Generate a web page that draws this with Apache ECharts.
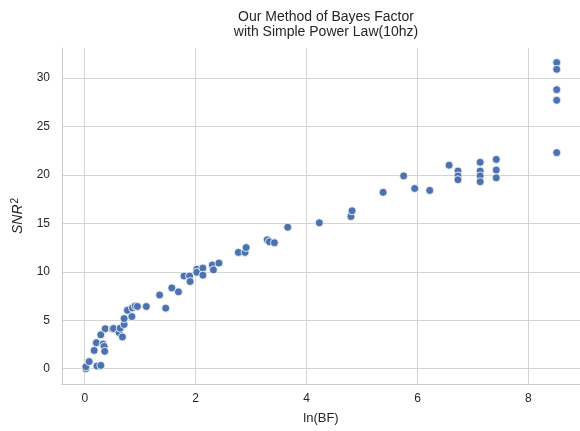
<!DOCTYPE html>
<html lang="en">
<head>
  <meta charset="utf-8">
  <title>Bayes Factor</title>
  <script src="https://cdn.jsdelivr.net/npm/echarts@6/dist/echarts.min.js"></script>
  <style>
    body { margin: 0; background: #fff; }
  </style>
</head>
<body>
<div id="main" style="width: 580px;height:431px;"></div>
<script type="text/javascript">
// ln(BF) 和 SNR^2 数据
var ln_bf = [0.02, 0.02, 0.08, 0.22, 0.29, 0.17, 0.21, 0.33, 0.35, 0.36,
             0.29, 0.37, 0.50, 0.52, 0.62, 0.64, 0.68, 0.71, 0.71, 0.77,
             0.85, 0.86, 0.91, 0.95, 1.11, 1.35, 1.46, 1.57, 1.69, 1.79,
             1.89, 1.90, 2.02, 2.02, 2.13, 2.13, 2.30, 2.32, 2.42, 2.77,
             2.89, 2.91, 3.29, 3.33, 3.42, 3.66, 4.23, 4.80, 4.82, 5.38,
             5.75, 5.95, 6.22, 6.57, 6.73, 6.73, 6.73, 7.13, 7.13, 7.13,
             7.13, 7.42, 7.42, 7.42, 8.51, 8.51, 8.51, 8.51, 8.51];
var snr2 = [0.0, 0.2, 0.73, 0.27, 0.34, 1.88, 2.68, 2.55, 2.3, 1.79,
            3.5, 4.13, 4.1, 4.15, 3.72, 4.18, 3.27, 4.56, 5.17, 6.02,
            5.38, 6.28, 6.47, 6.42, 6.42, 7.6, 6.25, 8.34, 7.93, 9.56,
            9.56, 9.0, 10.27, 9.95, 10.38, 9.65, 10.7, 10.2, 10.9, 12.0,
            12.0, 12.5, 13.3, 13.1, 13.0, 14.6, 15.06, 15.7, 16.3, 18.2,
            19.9, 18.6, 18.4, 21.0, 20.4, 19.9, 19.5, 21.3, 20.4, 19.9,
            19.3, 21.6, 20.5, 19.7, 31.6, 30.9, 28.8, 27.7, 22.3];
var title_lines = ['Our Method of Bayes Factor', 'with Simple Power Law(10hz)'];

var points = [];
for (var i = 0; i < ln_bf.length; i++) {
  points.push([ln_bf[i], snr2[i]]);
}

var font = '"Liberation Sans", Arial, sans-serif';
var myChart = echarts.init(document.getElementById('main'));

var option = {
  backgroundColor: '#fff',
  animation: false,
  textStyle: { fontFamily: font },
  title: {
    text: title_lines.join('\n'),
    left: 321,
    textAlign: 'center',
    top: 5,
    textStyle: { fontFamily: font, fontSize: 14, fontWeight: 'normal', color: '#262626', lineHeight: 15 }
  },
  grid: { left: 62, right: 0, top: 48, bottom: 47 },
  xAxis: {
    type: 'value',
    min: -0.41,
    max: 8.93,
    splitNumber: 5,
    name: 'ln(BF)',
    nameLocation: 'middle',
    nameGap: 28,
    nameTextStyle: { fontFamily: font, fontSize: 13, color: '#262626' },
    axisLine: { show: true, onZero: false, lineStyle: { color: '#cccccc', width: 1 } },
    axisTick: { show: false },
    axisLabel: { showMinLabel: false, showMaxLabel: false, margin: 9, fontSize: 12, color: '#262626', fontFamily: font },
    splitLine: { show: true, showMinLine: false, showMaxLine: false, lineStyle: { color: '#d4d4d4', width: 1 } }
  },
  yAxis: {
    type: 'value',
    min: -1.58,
    max: 33.1,
    splitNumber: 7,
    name: '{i|SNR}{s|2}',
    nameLocation: 'middle',
    nameGap: 36,
    nameTextStyle: {
      rich: {
        i: { fontFamily: font, fontSize: 14, fontStyle: 'italic', color: '#262626' },
        s: { fontFamily: font, fontSize: 10, color: '#262626', verticalAlign: 'top', padding: [0, 0, 6, 1] }
      }
    },
    axisLine: { show: true, onZero: false, lineStyle: { color: '#cccccc', width: 1 } },
    axisTick: { show: false },
    axisLabel: { showMinLabel: false, showMaxLabel: false, margin: 12, fontSize: 12, color: '#262626', fontFamily: font },
    splitLine: { show: true, showMinLine: false, showMaxLine: false, lineStyle: { color: '#d4d4d4', width: 1 } }
  },
  series: [
    {
      type: 'scatter',
      data: points,
      symbol: 'circle',
      symbolSize: 8,
      itemStyle: { color: '#4C72B0', borderColor: '#ffffff', borderWidth: 0.8, opacity: 1 }
    }
  ]
};
myChart.setOption(option);
</script>
</body>
</html>
